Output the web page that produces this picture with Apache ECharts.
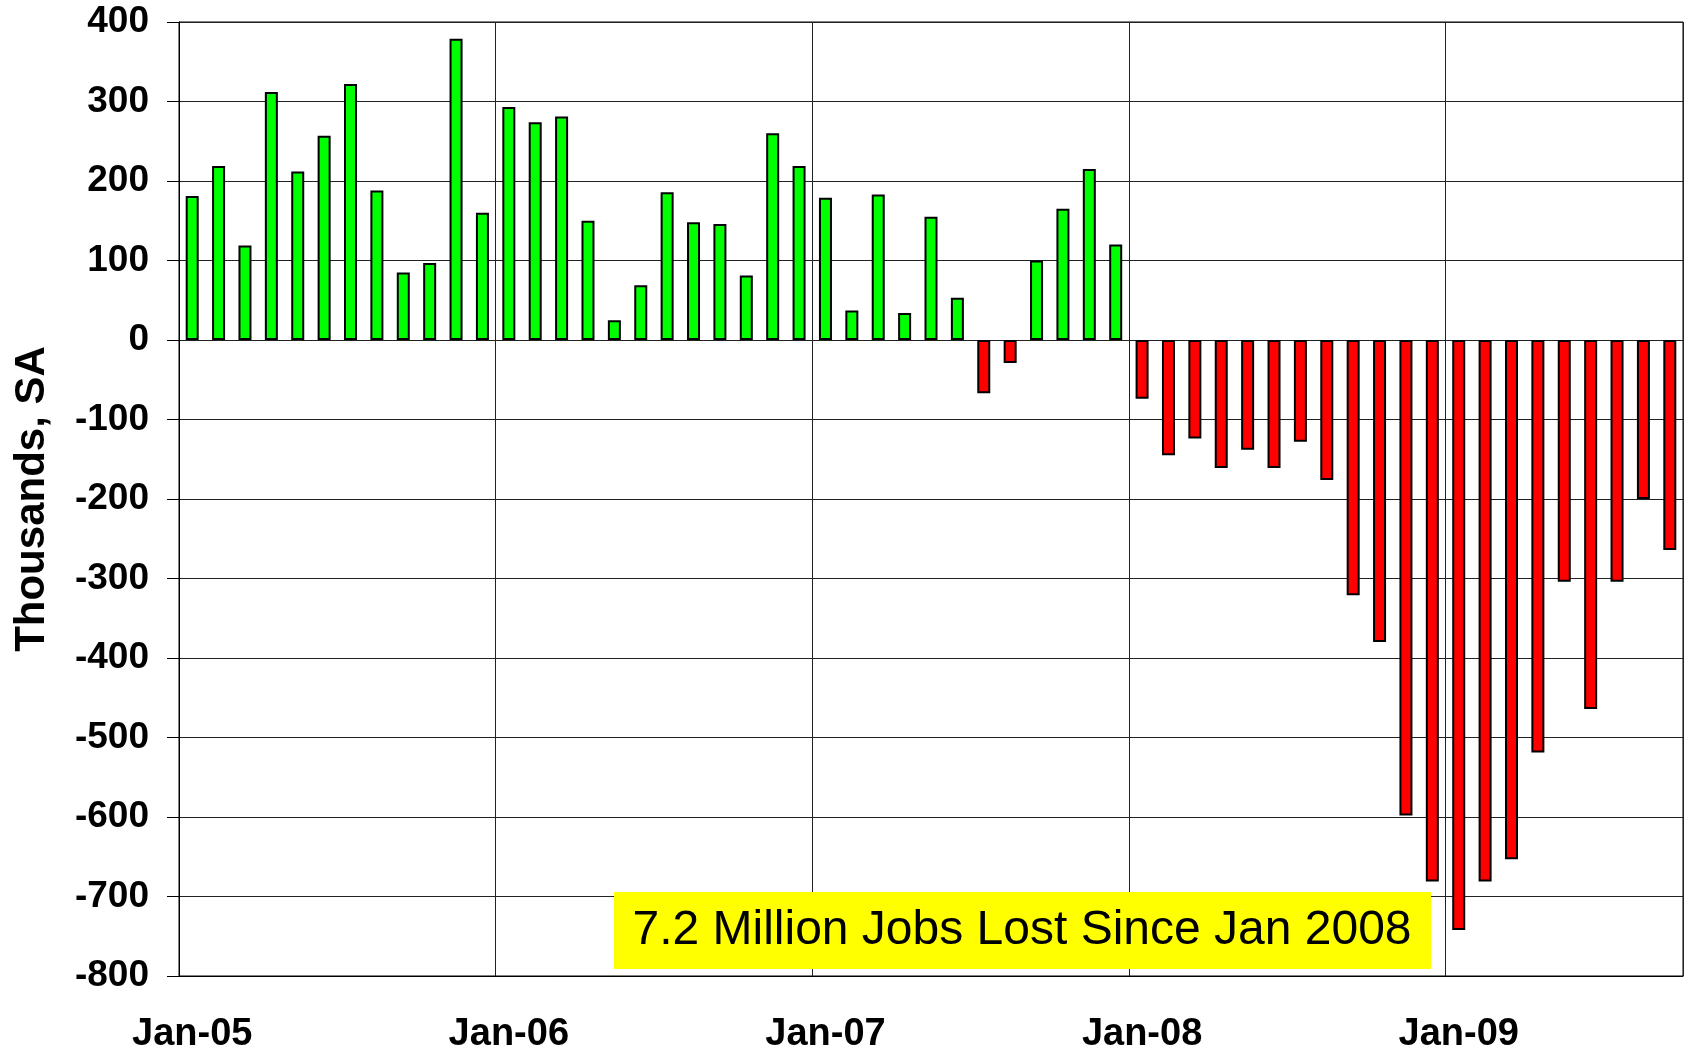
<!DOCTYPE html>
<html>
<head>
<meta charset="utf-8">
<title>Monthly job change</title>
<script src="https://cdn.jsdelivr.net/npm/echarts@6/dist/echarts.min.js"></script>
<style>
  html, body { margin: 0; padding: 0; background: #fff; }
  #chart { width: 1689px; height: 1051px; }
</style>
</head>
<body>
<div id="chart"></div>
<script>
// months Jan-05 .. Sep-09
const categories = [
  'Jan-05', 'Feb-05', 'Mar-05', 'Apr-05', 'May-05', 'Jun-05', 'Jul-05', 'Aug-05', 'Sep-05', 'Oct-05', 'Nov-05', 'Dec-05',
  'Jan-06', 'Feb-06', 'Mar-06', 'Apr-06', 'May-06', 'Jun-06', 'Jul-06', 'Aug-06', 'Sep-06', 'Oct-06', 'Nov-06', 'Dec-06',
  'Jan-07', 'Feb-07', 'Mar-07', 'Apr-07', 'May-07', 'Jun-07', 'Jul-07', 'Aug-07', 'Sep-07', 'Oct-07', 'Nov-07', 'Dec-07',
  'Jan-08', 'Feb-08', 'Mar-08', 'Apr-08', 'May-08', 'Jun-08', 'Jul-08', 'Aug-08', 'Sep-08', 'Oct-08', 'Nov-08', 'Dec-08',
  'Jan-09', 'Feb-09', 'Mar-09', 'Apr-09', 'May-09', 'Jun-09', 'Jul-09', 'Aug-09', 'Sep-09'
]

// change in payrolls, thousands SA
const jobs2005 = [181, 219, 119, 312, 212, 257, 322, 188, 85, 97, 379, 160]
const jobs2006 = [293, 274, 281, 150, 25, 69, 186, 148, 146, 81, 260, 219]
const jobs2007 = [179, 37, 183, 34, 155, 53, -67, -29, 100, 165, 215, 120]
const jobs2008 = [-74, -145, -124, -161, -138, -161, -128, -176, -321, -380, -598, -681]
const jobs2009 = [-742, -681, -653, -519, -304, -464, -304, -200, -264]

const yTicks = { min: -800, max: 400, step: 100 }
const note = '7.2 Million Jobs Lost Since Jan 2008'

const values = [].concat(jobs2005, jobs2006, jobs2007, jobs2008, jobs2009)
const font = '"Liberation Sans", Arial, sans-serif'

let myChart = echarts.init(document.getElementById('chart'))

let option = {
  animation: false,
  backgroundColor: '#fff',
  grid: {
    left: 179, right: 6, top: 22, bottom: 75,
    outerBoundsMode: 'none',
    containLabel: false,
    show: true, borderColor: '#000', borderWidth: 1
  },
  xAxis: {
    type: 'category',
    data: categories,
    boundaryGap: true,
    axisLine: { onZero: false, lineStyle: { color: '#000', width: 1 } },
    axisTick: { show: false },
    axisLabel: {
      interval: 11, margin: 40,
      color: '#000', fontFamily: font, fontWeight: 'bold', fontSize: 38
    },
    splitLine: { show: true, interval: 11, lineStyle: { color: '#222', width: 1 } }
  },
  yAxis: {
    type: 'value',
    min: yTicks.min, max: yTicks.max, interval: yTicks.step,
    name: 'Thousands, SA',
    nameLocation: 'middle',
    nameGap: 126,
    nameRotate: 90,
    nameTextStyle: { color: '#000', fontFamily: font, fontWeight: 'bold', fontSize: 42 },
    axisLine: { show: true, lineStyle: { color: '#000', width: 1 } },
    axisTick: { show: true, length: 12, inside: false, lineStyle: { color: '#000' } },
    axisLabel: { margin: 30, color: '#000', fontFamily: font, fontWeight: 'bold', fontSize: 37 },
    splitLine: { show: true, lineStyle: { color: '#222', width: 1 } }
  },
  series: [
    {
      type: 'bar',
      data: values.map(v => ({
        value: v,
        itemStyle: { color: v >= 0 ? '#00ff00' : '#ff0000' }
      })),
      barWidth: 13,
      itemStyle: { borderColor: '#000', borderWidth: 2 },
      z: 3
    }
  ],
  graphic: [
    {
      type: 'rect', left: 614, top: 892, z: 100,
      shape: { width: 817, height: 77 },
      style: { fill: '#ffff00' }
    },
    {
      type: 'text', x: 1022, y: 931, z: 101,
      style: {
        text: note, fill: '#000', font: '48px ' + font,
        align: 'center', verticalAlign: 'middle'
      }
    }
  ]
}

myChart.setOption(option)
</script>
</body>
</html>
